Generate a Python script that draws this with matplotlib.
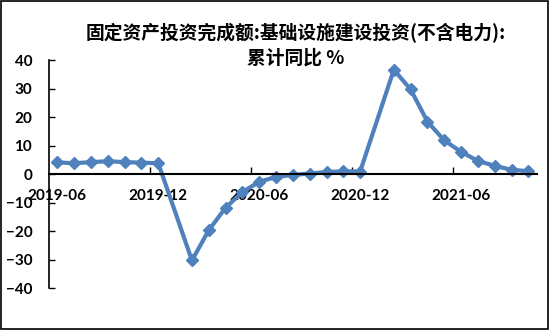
import numpy as np
import matplotlib
matplotlib.use("Agg")
import matplotlib.pyplot as plt
from matplotlib.patches import Rectangle

plt.rcParams['font.family'] = ['Lato', 'Noto Sans CJK SC', 'DejaVu Sans']

# months since 2019-06 (Jan values are not published, so 2020-01 and 2021-01 are absent)
months = ['2019-06', '2019-07', '2019-08', '2019-09', '2019-10', '2019-11', '2019-12',
          '2020-02', '2020-03', '2020-04', '2020-05', '2020-06', '2020-07', '2020-08',
          '2020-09', '2020-10', '2020-11', '2020-12',
          '2021-02', '2021-03', '2021-04', '2021-05', '2021-06', '2021-07', '2021-08',
          '2021-09', '2021-10']
values = [4.1, 3.8, 4.2, 4.5, 4.2, 4.0, 3.8,
          -30.3, -19.7, -11.8, -6.3, -2.7, -1.0, -0.3,
          0.2, 0.7, 1.0, 0.9,
          36.6, 29.7, 18.4, 11.8, 7.8, 4.6, 2.9,
          1.5, 1.0]
tick_labels = ['2019-06', '2019-12', '2020-06', '2020-12', '2021-06']
title = '固定资产投资完成额:基础设施建设投资(不含电力):\n累计同比 %'

def month_index(s):
    y, m = s.split('-')
    return (int(y) - 2019) * 12 + int(m) - 6

x = np.array([month_index(m) for m in months])
n_cat = month_index('2021-10') + 1

fig = plt.figure(figsize=(5.5, 3.3), dpi=100)
ax = fig.add_axes([0.089, 0.127, 0.887, 0.691])

color = '#4F81BD'
ax.plot(x, values, color=color, linewidth=3, marker='D', markersize=6,
        markeredgecolor=color, markerfacecolor=color)

ax.set_xlim(-0.5, n_cat - 0.5)
ax.set_ylim(-40, 40)
ax.set_yticks(np.arange(-40, 41, 10))

for side in ['top', 'right']:
    ax.spines[side].set_visible(False)
ax.spines['bottom'].set_position(('data', 0))
ax.spines['bottom'].set_linewidth(1.5)
ax.spines['left'].set_linewidth(1.2)

# tick marks between categories, labels on the categories
ax.set_xticks([i - 0.5 for i in range(6, n_cat, 6)])
ax.set_xticklabels([])
ax.tick_params(axis='x', which='major', direction='in', length=5, width=1)
ax.set_xticks([month_index(t) for t in tick_labels], minor=True)
ax.set_xticklabels(tick_labels, minor=True)
ax.tick_params(axis='x', which='minor', length=0, pad=11)
ax.tick_params(axis='y', direction='in', length=4, width=1, pad=12)

for lab in ax.get_xticklabels(minor=True) + ax.get_yticklabels():
    lab.set_fontweight('bold')
    lab.set_fontsize(11)

fig.text(0.538, 0.864, title, ha='center', va='center', fontsize=13.5,
         fontweight='bold', family=['Noto Sans CJK SC', 'DejaVu Sans'],
         linespacing=1.35)

fig.patches.append(Rectangle((0.002, 0.003), 0.995, 0.993, transform=fig.transFigure,
                             fill=False, edgecolor='black', linewidth=1.2))

fig.savefig('out.png', dpi=100)
